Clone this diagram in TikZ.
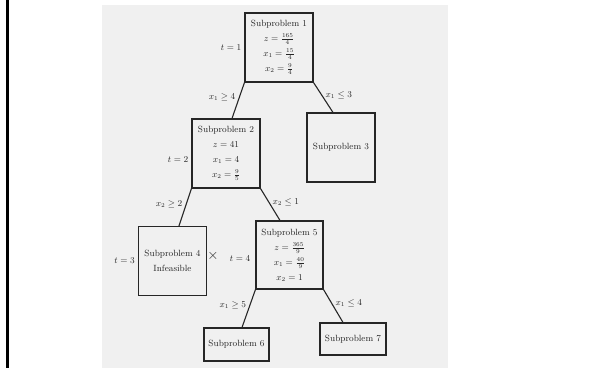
\documentclass[tikz,border=0pt]{standalone}
\usetikzlibrary{calc}
\begin{document}
\begin{tikzpicture}
      [x=1pt,y=-1pt
      ,font=\fontsize{9}{15}\selectfont
      ,box/.style={draw=black!85,line width=1.1pt,align=center,text=black!85,minimum width=68pt,minimum height=69pt}
      ,leaf/.style={box,minimum width=66pt,minimum height=33pt}
      ,edge/.style={draw=black!85,line width=1.1pt}
      ,tlab/.style={anchor=east,inner sep=3pt,text=black!85}
      ]
        \useasboundingbox (0,0) rectangle (592,368);
        \fill[white] (0,0) rectangle (592,368);
        \fill[gray!12] (102,5) rectangle (448,368);
        \fill[black] (6,0) rectangle (8.5,368);

        % subproblems
        \node[box] (b1) at (279,47.5) {Subproblem 1\\$z=\frac{165}{4}$\\$x_1=\frac{15}{4}$\\$x_2=\frac{9}{4}$};
        \node[box] (b2) at (226,153.5) {Subproblem 2\\$z=41$\\$x_1=4$\\$x_2=\frac{9}{5}$};
        \node[box] (b3) at (341,147.5) {Subproblem 3};
        \node[box] (b4) at (172.5,261) {Subproblem 4\\Infeasible};
        \node[box,minimum width=67pt,minimum height=68pt] (b5) at (289.5,255) {Subproblem 5\\$z=\frac{365}{9}$\\$x_1=\frac{40}{9}$\\$x_2=1$};
        \node[leaf,minimum width=65pt] (b6) at (236.5,344.5) {Subproblem 6};
        \node[leaf,minimum height=32pt] (b7) at (353,339) {Subproblem 7};

        % branches
        \foreach \p/\c/\cor/\dx/\side/\lab in {b1/b2/west/6/left/{x_1 \geq 4}, b1/b3/east/-8/right/{x_1 \leq 3}, b2/b4/west/6.5/left/{x_2 \geq 2}, b2/b5/east/-9.5/right/{x_2 \leq 1}, b5/b6/west/5.5/left/{x_1 \geq 5}, b5/b7/east/-10/right/{x_1 \leq 4}}
        {
            \draw[edge] (\p.south \cor) -- node[\side,pos=.42,text=black!85] {$\lab$} ([xshift=\dx pt]\c.north);
        }

        % order of solving
        \node[tlab] (t1) at (b1.west) {$t=1$};
        \node[tlab] (t2) at ([yshift=-6pt]b2.west) {$t=2$};
        \node[tlab] (t3) at (b4.west) {$t=3$};
        \node[tlab,inner sep=5pt] (t4) at ([yshift=-4pt]b5.west) {$t=4$};
        \node[text=black!85,font=\Large] (cut) at ([xshift=6pt,yshift=5pt]b4.east) {$\times$};

       \end{tikzpicture}
\end{document}
